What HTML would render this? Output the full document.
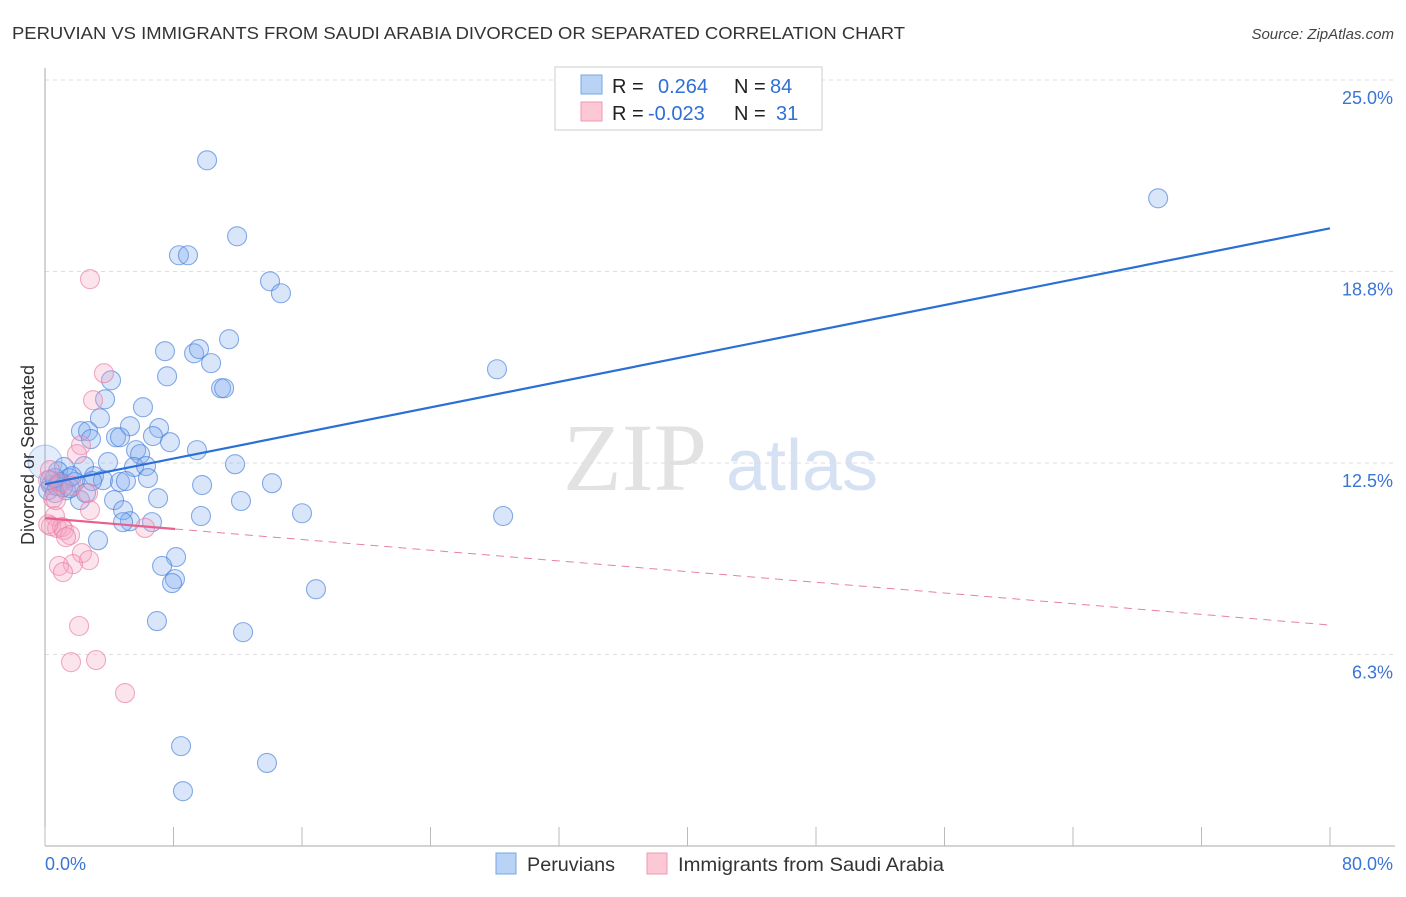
<!DOCTYPE html>
<html><head><meta charset="utf-8"><style>
html,body{margin:0;padding:0;background:#fff;}
body{width:1406px;height:892px;overflow:hidden;font-family:"Liberation Sans",sans-serif;}
</style></head><body>
<svg id="chart" width="1406" height="892" xmlns="http://www.w3.org/2000/svg" font-family="Liberation Sans, sans-serif">
<text x="12" y="39" font-size="17.5" fill="#333" textLength="893" lengthAdjust="spacingAndGlyphs">PERUVIAN VS IMMIGRANTS FROM SAUDI ARABIA DIVORCED OR SEPARATED CORRELATION CHART</text>
<text x="1394" y="39" font-size="15" fill="#444" font-style="italic" text-anchor="end">Source: ZipAtlas.com</text>
<g>
<text x="635" y="490" font-size="96" fill="#e2e2e2" font-family="Liberation Serif, serif" text-anchor="middle">ZIP</text>
<text x="802" y="490" font-size="72" fill="#d6e2f3" text-anchor="middle">atlas</text>
</g>
<g id="grid"></g>
<g id="axes"></g>
<g id="pts"></g>
<g id="trend"></g>
<text transform="translate(34,455) rotate(-90)" font-size="18" fill="#333" text-anchor="middle">Divorced or Separated</text>
<g>
<rect x="555" y="67" width="267" height="63" fill="#fff" stroke="#ccc"/>
<rect x="581" y="75" width="21" height="19" fill="#b8d3f5" stroke="#7aa6e3"/>
<rect x="581" y="102" width="21" height="19" fill="#fcc8d6" stroke="#ee9ab2"/>
<text x="612" y="93" font-size="20" fill="#222">R =</text>
<text x="658" y="93" font-size="20" fill="#2f6fd6">0.264</text>
<text x="734" y="93" font-size="20" fill="#222">N =</text>
<text x="770" y="93" font-size="20" fill="#2f6fd6">84</text>
<text x="612" y="120" font-size="20" fill="#222">R =</text>
<text x="648" y="120" font-size="20" fill="#2f6fd6">-0.023</text>
<text x="734" y="120" font-size="20" fill="#222">N =</text>
<text x="776" y="120" font-size="20" fill="#2f6fd6">31</text>
</g>
<g>
<rect x="496" y="853" width="20" height="21" fill="#b8d3f5" stroke="#7aa6e3"/>
<text x="527" y="871" font-size="19.5" fill="#333" textLength="88" lengthAdjust="spacingAndGlyphs">Peruvians</text>
<rect x="647" y="853" width="20" height="21" fill="#fcc8d6" stroke="#ee9ab2"/>
<text x="678" y="871" font-size="19.5" fill="#333" textLength="266" lengthAdjust="spacingAndGlyphs">Immigrants from Saudi Arabia</text>
</g>
</svg>
<script>
const xTickVals=[0,10,20,30,40,50,60,70,80];
const yTickVals=[6.25,12.5,18.75,25];
const yTickLabels=["6.3%","12.5%","18.8%","25.0%"];
const xEndLabels=["0.0%","80.0%"];
const blueX=[10.09,11.96,8.34,8.90,14.01,14.69,11.46,7.47,9.28,9.59,10.34,7.60,4.11,10.96,11.15,3.74,6.10,3.42,5.29,7.10,2.24,2.68,6.72,4.42,4.67,7.78,2.86,5.67,5.92,9.46,3.92,11.83,1.18,2.43,5.54,6.29,0.81,3.05,3.61,4.67,5.04,6.41,1.49,1.87,0.37,0.93,9.78,14.13,0.62,1.31,2.18,4.30,7.04,12.20,4.86,16.00,9.71,28.52,5.29,4.86,6.66,3.30,8.16,7.29,8.09,7.91,16.87,6.97,12.33,8.47,13.82,8.59,28.14,69.30,0.31,0.19,0.75,1.12,1.56,1.68,2.55,2.93,0.62,0];
const blueY=[22.38,19.90,19.28,19.28,18.43,18.04,16.54,16.15,16.08,16.22,15.76,15.33,15.20,14.94,14.94,14.58,14.32,13.96,13.70,13.64,13.54,13.54,13.38,13.34,13.34,13.18,13.28,12.92,12.79,12.92,12.53,12.46,12.37,12.40,12.37,12.40,12.23,12.07,11.94,11.88,11.91,12.01,12.01,11.88,11.78,11.88,11.78,11.84,11.52,11.61,11.29,11.29,11.35,11.26,10.96,10.86,10.77,10.77,10.60,10.57,10.57,9.98,9.43,9.14,8.71,8.58,8.38,7.34,6.98,3.26,2.71,1.79,15.56,21.14,11.94,11.61,11.75,11.71,11.68,12.07,11.52,11.91,12.01,12.53];
const pinkX=[2.80,3.67,2.99,2.24,1.99,0.31,0.19,0.93,2.68,0.50,2.80,0.62,0.37,0.75,1.06,1.18,1.56,1.31,6.23,2.30,2.74,1.74,0.87,1.12,2.12,1.62,3.18,4.98,1.68,0.68,0.2];
const pinkY=[18.50,15.43,14.55,13.08,12.79,12.27,11.94,11.81,11.52,11.35,10.96,10.77,10.44,10.38,10.41,10.31,10.15,10.08,10.38,9.56,9.33,9.20,9.14,8.94,7.18,6.00,6.07,4.99,11.75,11.29,10.5];
const blueTrend=[11.81,20.16];
const pinkTrend=[10.70,7.21];
const pinkSolidEnd=8.1;
const X0=45,X1=1330,Y0=846;
const sx=v=>X0+v*(X1-X0)/80;
const sy=v=>Y0-v*(Y0-80)/25;
const NS="http://www.w3.org/2000/svg";
function mk(tag,attrs,parent){const e=document.createElementNS(NS,tag);for(const k in attrs)e.setAttribute(k,attrs[k]);parent.appendChild(e);return e;}
const grid=document.getElementById('grid'),axes=document.getElementById('axes'),pts=document.getElementById('pts'),trend=document.getElementById('trend');
yTickVals.forEach((v,i)=>{
 const l=mk('line',{x1:X0,x2:1395,y1:sy(v),y2:sy(v),stroke:'#ddd','stroke-dasharray':'4,4'},grid);
 
 
 const t=mk('text',{x:1393,y:sy(v)+24,'font-size':18,fill:'#3a74d6','text-anchor':'end'},axes);
 t.textContent=yTickLabels[i];
 
 
});
const ax=mk('line',{x1:X0,x2:X0,y1:68,y2:Y0,stroke:'#aaa'},axes);


const bx=mk('line',{x1:X0,x2:1395,y1:Y0,y2:Y0,stroke:'#aaa'},axes);


for(let v=0;v<=80;v+=80/10){
 const t=mk('line',{x1:sx(v),x2:sx(v),y1:Y0-19,y2:Y0,stroke:'#bbb'},axes);
 
 
}
[[0,'start'],[80,'end']].forEach((p,i)=>{
 const t=mk('text',{x:i?1393:45,y:870,'font-size':18,fill:'#3a74d6','text-anchor':p[1]},axes);
 t.textContent=xEndLabels[i];
 
 
});
blueX.forEach((x,i)=>{
 const big=(i===blueX.length-1);
 const c=mk('circle',{cx:sx(x),cy:sy(blueY[i]),r:big?17:9.5,fill:big?'rgba(140,180,240,0.25)':'rgba(130,172,238,0.3)',stroke:big?'rgba(80,135,220,0.4)':'rgba(70,128,220,0.65)','stroke-width':1.1},pts);
 
 
});
pinkX.forEach((x,i)=>{
 const c=mk('circle',{cx:sx(x),cy:sy(pinkY[i]),r:9.5,fill:'rgba(245,165,195,0.3)',stroke:'rgba(235,125,165,0.65)','stroke-width':1.1},pts);
 
 
});
const bl=mk('line',{x1:sx(0),y1:sy(blueTrend[0]),x2:sx(80),y2:sy(blueTrend[1]),stroke:'#2a6fd6','stroke-width':2.2},trend);


const pAt=v=>pinkTrend[0]+(pinkTrend[1]-pinkTrend[0])*v/80;
const ps=mk('line',{x1:sx(0),y1:sy(pAt(0)),x2:sx(pinkSolidEnd),y2:sy(pAt(pinkSolidEnd)),stroke:'#e8608d','stroke-width':2.2},trend);


const pd=mk('line',{x1:sx(pinkSolidEnd),y1:sy(pAt(pinkSolidEnd)),x2:sx(80),y2:sy(pAt(80)),stroke:'#e8809f','stroke-width':1,'stroke-dasharray':'8,6'},trend);


</script>
</body></html>
